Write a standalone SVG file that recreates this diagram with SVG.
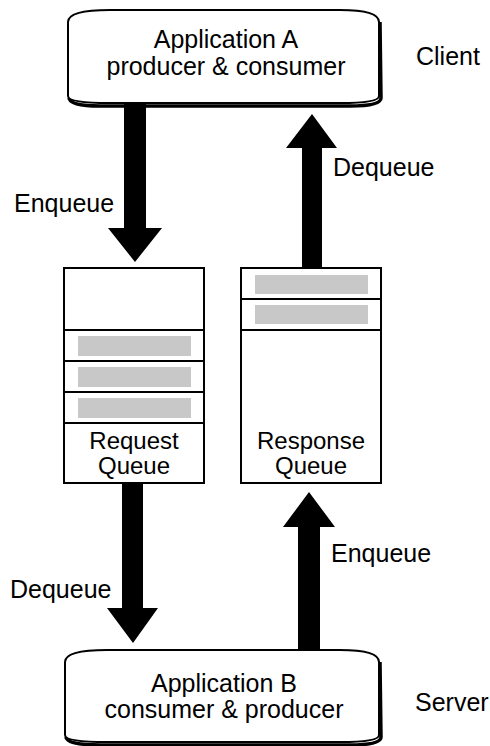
<svg xmlns="http://www.w3.org/2000/svg" width="490" height="746" viewBox="0 0 490 746">
<style>
text{font-family:"Liberation Sans",Arial,sans-serif;font-size:25px;fill:#000}
.c{text-anchor:middle}
.q{font-size:24px}
.box{fill:#fff;stroke:#000;stroke-width:2}
.sh{fill:none;stroke:#000;stroke-width:3.5}
.bar{fill:#c8c8c8}
.arr{fill:#000}
.ln{stroke:#000;stroke-width:2}
</style>
<rect width="490" height="746" fill="#fff"/>
<g id="appA">
<path class="sh" d="M380,22 L381,98 Q381,106 350,106 L100,106 Q70,106 69,98"/>
<path class="box" d="M68,22 Q68,10 110,10 L340,10 Q379,10 379,22 L379,96 Q379,103 340,103 L110,103 Q68,103 68,96 Z"/>
<text class="c" x="226" y="48">Application A</text>
<text class="c" x="226" y="75">producer &amp; consumer</text>
</g>
<g id="client"><text x="416" y="65">Client</text></g>
<g id="requestQueue">
<rect class="box" x="64" y="268" width="140" height="215"/>
<line class="ln" x1="64" y1="330" x2="204" y2="330"/>
<line class="ln" x1="64" y1="361" x2="204" y2="361"/>
<line class="ln" x1="64" y1="392" x2="204" y2="392"/>
<line class="ln" x1="64" y1="423" x2="204" y2="423"/>
<rect class="bar" x="78" y="336" width="113" height="20"/>
<rect class="bar" x="78" y="367" width="113" height="20"/>
<rect class="bar" x="78" y="398" width="113" height="20"/>
<text class="c q" x="134" y="449">Request</text>
<text class="c q" x="134" y="474">Queue</text>
</g>
<g id="responseQueue">
<rect class="box" x="241" y="268" width="140" height="215"/>
<line class="ln" x1="241" y1="299" x2="381" y2="299"/>
<line class="ln" x1="241" y1="330" x2="381" y2="330"/>
<rect class="bar" x="255" y="275" width="113" height="19"/>
<rect class="bar" x="255" y="305" width="113" height="19"/>
<text class="c q" x="311" y="449">Response</text>
<text class="c q" x="311" y="474">Queue</text>
</g>
<g id="appB">
<path class="sh" d="M380,662 L381,737 Q381,745 350,745 L100,745 Q67,745 66,737"/>
<path class="box" d="M65,662 Q65,650 107,650 L340,650 Q379,650 379,662 L379,735 Q379,742 340,742 L107,742 Q65,742 65,735 Z"/>
<text class="c" x="224" y="692">Application B</text>
<text class="c" x="224" y="718">consumer &amp; producer</text>
</g>
<g id="server"><text x="415" y="711">Server</text></g>
<g id="connectors">
<polygon class="arr" points="124,104 146,104 146,228 162,228 135,262 108,228 124,228"/>
<polygon class="arr" points="302,268 322,268 322,148 337,148 312,114 286,148 302,148"/>
<polygon class="arr" points="122,483 143,483 143,608 158,608 133,643 107,608 122,608"/>
<polygon class="arr" points="298,651 320,651 320,527 335,527 309,492 283,527 298,527"/>
<text x="14" y="212">Enqueue</text>
<text x="333" y="176">Dequeue</text>
<text x="10" y="598">Dequeue</text>
<text x="331" y="562">Enqueue</text>
</g>
</svg>
